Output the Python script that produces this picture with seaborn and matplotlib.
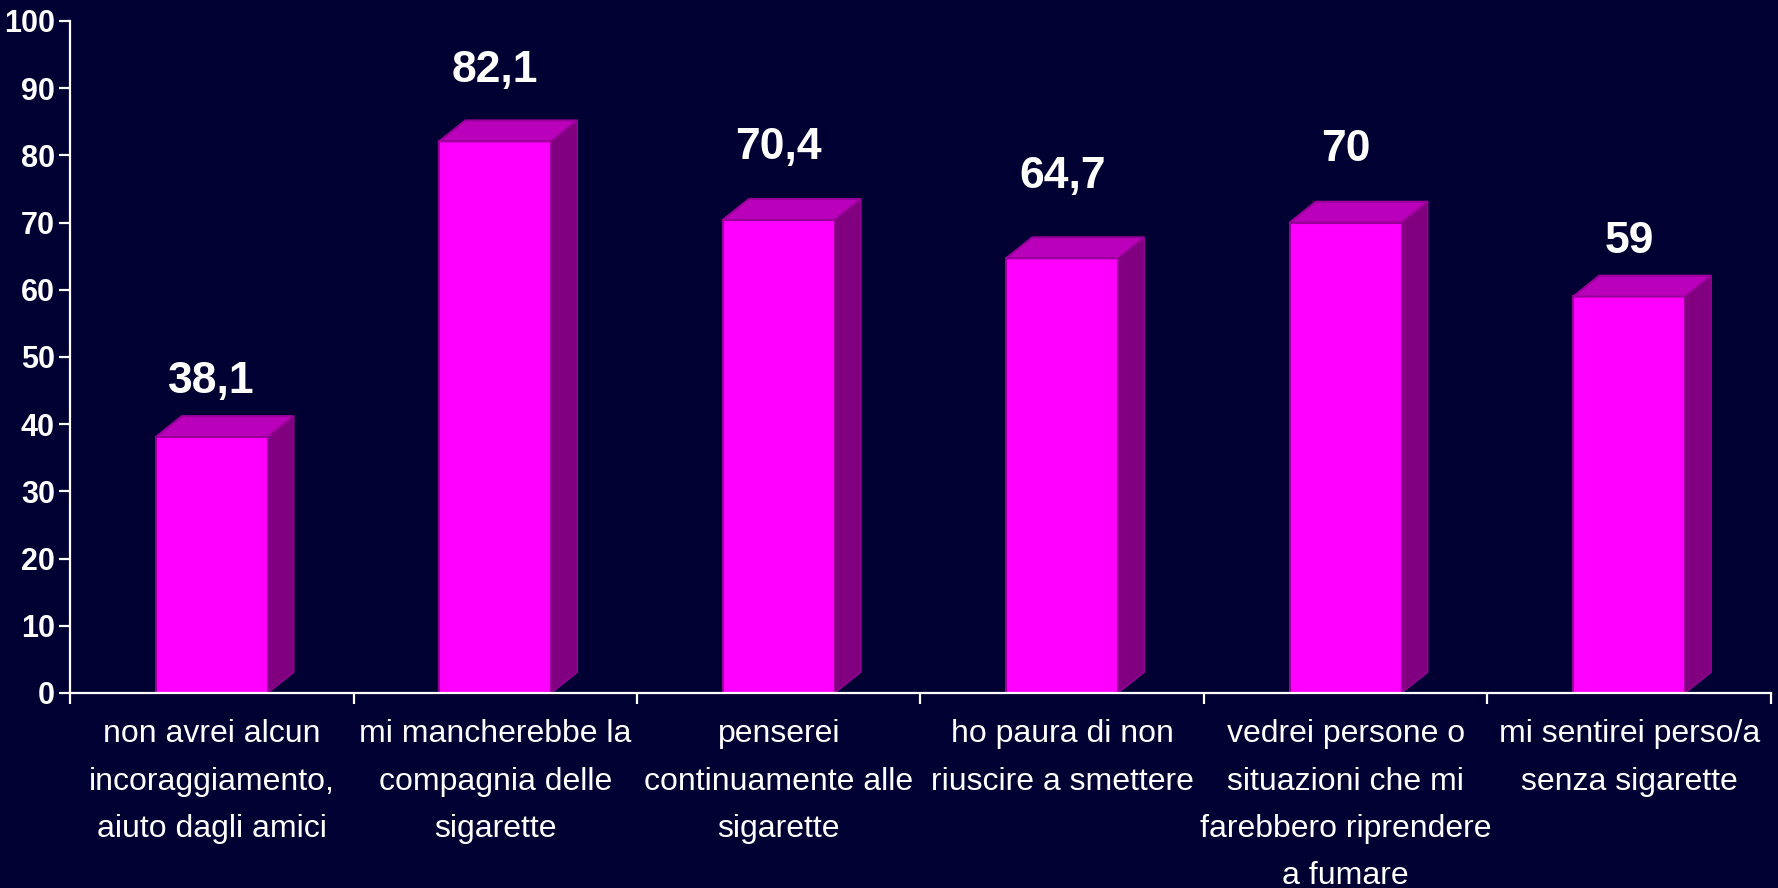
import matplotlib
matplotlib.use("Agg")
import matplotlib.pyplot as plt
from matplotlib.patches import Polygon
from matplotlib.ticker import FixedLocator
import seaborn as sns
import pandas as pd

categories = [
    "non avrei alcun\nincoraggiamento,\naiuto dagli amici",
    "mi mancherebbe la\ncompagnia delle\nsigarette",
    "penserei\ncontinuamente alle\nsigarette",
    "ho paura di non\nriuscire a smettere",
    "vedrei persone o\nsituazioni che mi\nfarebbero riprendere\na fumare",
    "mi sentirei perso/a\nsenza sigarette",
]
values = [38.1, 82.1, 70.4, 64.7, 70, 59]
y_ticks = [0, 10, 20, 30, 40, 50, 60, 70, 80, 90, 100]

# how far above each bar its value label sits (in axis units)
label_lift = [6.5, 8.8, 9.0, 10.4, 9.2, 6.5]

BG = "#000033"
FRONT = "#FF00FF"
TOP = "#BB00BB"
SIDE = "#800080"
EDGE = "#990099"

sns.set_theme(style="white")
plt.rcParams["font.family"] = ["Liberation Sans", "DejaVu Sans"]
NARROW = ["Liberation Sans Narrow", "Liberation Sans", "DejaVu Sans"]

df = pd.DataFrame({"categoria": categories, "valore": values})

fig = plt.figure(figsize=(17.78, 8.88), dpi=100, facecolor=BG)
ax = fig.add_axes([0.0394, 0.2196, 0.9566, 0.7568])
ax.set_facecolor(BG)

sns.barplot(data=df, x="categoria", y="valore", color=FRONT, saturation=1,
            width=0.395, edgecolor=EDGE, linewidth=1.5, ax=ax, zorder=3)

ax.set_xlim(-0.5, len(categories) - 0.5)
ax.set_ylim(0, 100)

# extrusion depth of the 3D boxes (category units, data units)
dx, dy = 0.092, 3.1
for patch in ax.patches[:len(values)]:
    x0 = patch.get_x()
    x1 = x0 + patch.get_width()
    h = patch.get_height()
    top = Polygon([(x0, h), (x1, h), (x1 + dx, h + dy), (x0 + dx, h + dy)],
                  closed=True, facecolor=TOP, edgecolor=EDGE, linewidth=1.5,
                  zorder=3)
    side = Polygon([(x1, 0), (x1 + dx, dy), (x1 + dx, h + dy), (x1, h)],
                   closed=True, facecolor=SIDE, edgecolor=EDGE, linewidth=1.0,
                   zorder=3)
    ax.add_patch(top)
    ax.add_patch(side)

for i, (v, lift) in enumerate(zip(values, label_lift)):
    label = f"{v:g}".replace(".", ",")
    ax.text(i, v + lift, label, ha="center", va="baseline", color="white",
            fontsize=32, fontweight="bold", family=NARROW, zorder=4)

ax.set_xlabel("")
ax.set_ylabel("")
for s in ("top", "right"):
    ax.spines[s].set_visible(False)
for s in ("left", "bottom"):
    ax.spines[s].set_color("white")
    ax.spines[s].set_linewidth(1.6)
    ax.spines[s].set_zorder(5)

ax.yaxis.set_major_locator(FixedLocator(y_ticks))
ax.tick_params(axis="y", which="major", direction="out", length=8, width=1.6,
               color="white", labelcolor="white", labelsize=22, pad=3, left=True)
for t in ax.get_yticklabels():
    t.set_fontweight("bold")
    t.set_family(NARROW)

ax.xaxis.set_minor_locator(FixedLocator([i - 0.5 for i in range(len(categories) + 1)]))
ax.tick_params(axis="x", which="minor", direction="out", length=8, width=1.6,
               color="white", bottom=True)
ax.tick_params(axis="x", which="major", length=0, labelcolor="white",
               labelsize=23, pad=19)
for t in ax.get_xticklabels():
    t.set_linespacing(1.75)
    t.set_verticalalignment("top")

fig.savefig("out.png", dpi=100, facecolor=BG)
